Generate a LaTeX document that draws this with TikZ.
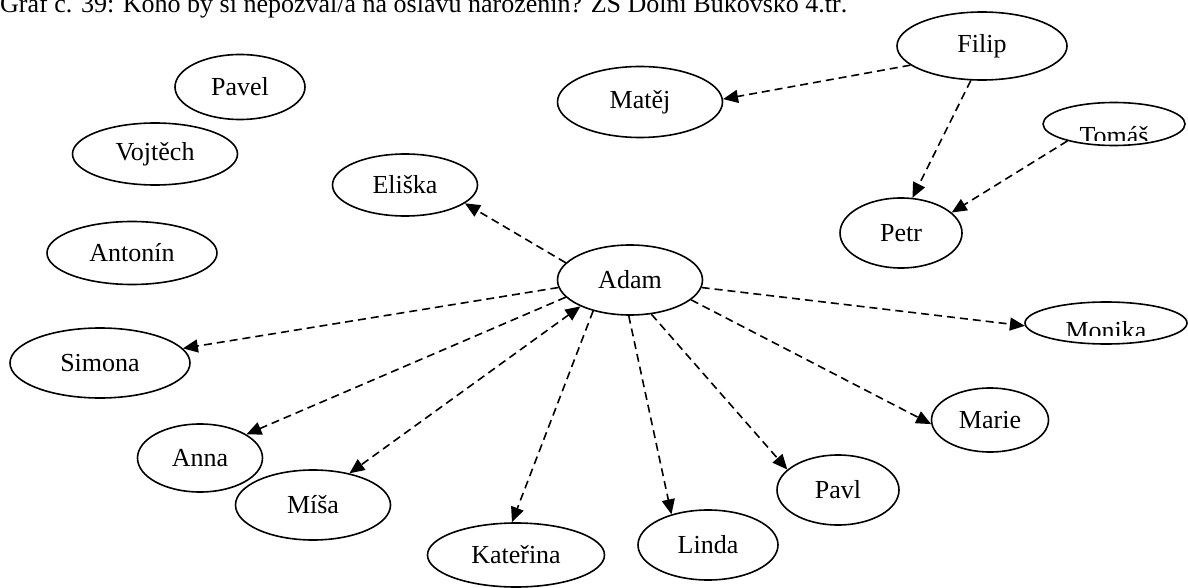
\documentclass[tikz,border=0pt]{standalone}
\usepackage{fontspec}
\setmainfont{Liberation Serif}
\usetikzlibrary{shapes.geometric,arrows.meta}
\begin{document}
\begin{tikzpicture}[x=1pt, y=-1pt,
  person/.style={ellipse, draw, line width=1.6pt, inner sep=0pt, font=\fontsize{26}{30}\selectfont},
  wish/.style={-{Triangle[length=15pt,width=13pt]}, line width=1.6pt, dash pattern=on 8pt off 5pt},
  mutual/.style={{Triangle[length=15pt,width=13pt]}-{Triangle[length=15pt,width=13pt]}}]
  % Page
  \clip (0,0) rectangle (1188,588);

  % Title
  \node[anchor=base west, inner sep=0pt, font=\fontsize{26}{30}\selectfont] (title) at (0,13)
    {Graf č. 39: Koho by si nepozval/a na oslavu narozenin? ZŠ Dolní Bukovsko 4.tř.};

  % Children nobody named
  \node[person, minimum width=130pt, minimum height=65pt] (pavel) at (240,87) {Pavel};
  \node[person, minimum width=165pt, minimum height=62pt] (vojtech) at (155,154) {Vojtěch};
  \node[person, minimum width=170pt, minimum height=63pt] (antonin) at (132,253) {Antonín};

  % Adam and his choices
  \node[person, minimum width=145pt, minimum height=70pt] (adam) at (630,280) {Adam};
  \node[person, minimum width=145pt, minimum height=62pt] (eliska) at (405,185) {Eliška};
  \node[person, minimum width=180pt, minimum height=70pt] (simona) at (100,363) {Simona};
  \node[person, minimum width=125pt, minimum height=68pt] (anna) at (200,458) {Anna};
  \node[person, minimum width=155pt, minimum height=70pt] (misa) at (313,505) {Míša};
  \node[person, minimum width=177pt, minimum height=64pt] (katerina) at (516,555) {Kateřina};
  \node[person, minimum width=140pt, minimum height=70pt] (linda) at (708,545) {Linda};
  \node[person, minimum width=122pt, minimum height=70pt] (pavl) at (838,490) {Pavl};
  \node[person, minimum width=117pt, minimum height=64pt] (marie) at (990,420) {Marie};
  \node[person, minimum width=162pt, minimum height=42pt] (monika) at (1106,323) {};

  % Filip, Tomas and the others
  \node[person, minimum width=170pt, minimum height=68pt] (filip) at (982,46) {Filip};
  \node[person, minimum width=165pt, minimum height=71pt] (matej) at (640,102) {Matěj};
  \node[person, minimum width=122pt, minimum height=70pt] (petr) at (901,233) {Petr};
  \node[person, minimum width=142pt, minimum height=43pt] (tomas) at (1114,124) {};

  % Cut labels
  \begin{scope}
    \clip (1030,90) rectangle (1188,141);
    \node[anchor=base, inner sep=0pt, font=\fontsize{26}{30}\selectfont] (tomaslabel) at (1114,145) {Tomáš};
  \end{scope}
  \begin{scope}
    \clip (1020,295) rectangle (1188,335);
    \node[anchor=base, inner sep=0pt, font=\fontsize{26}{30}\selectfont] (monikalabel) at (1106,339) {Monika};
  \end{scope}

  % Links from Adam
  \draw[wish] (adam.165) -- (eliska.-17);
  \draw[wish] (adam.186) -- (simona.10);
  \draw[wish] (adam.195) -- (anna.27);
  \draw[wish, mutual] (adam.208) -- (misa.41);
  \draw[wish] (adam.-140) -- (katerina.97);
  \draw[wish] (adam.-92) -- (linda.140);
  \draw[wish] (adam.-58) -- (pavl.158);
  \draw[wish] (adam.-18) -- (marie.184);
  \draw[wish] (adam.-6) -- (monika.182);

  % Other links
  \draw[wish] (filip.195) -- (matej.2);
  \draw[wish] (filip.-108) -- (petr.72);
  \draw[wish] (tomas.200) -- (petr.22);
\end{tikzpicture}
\end{document}
